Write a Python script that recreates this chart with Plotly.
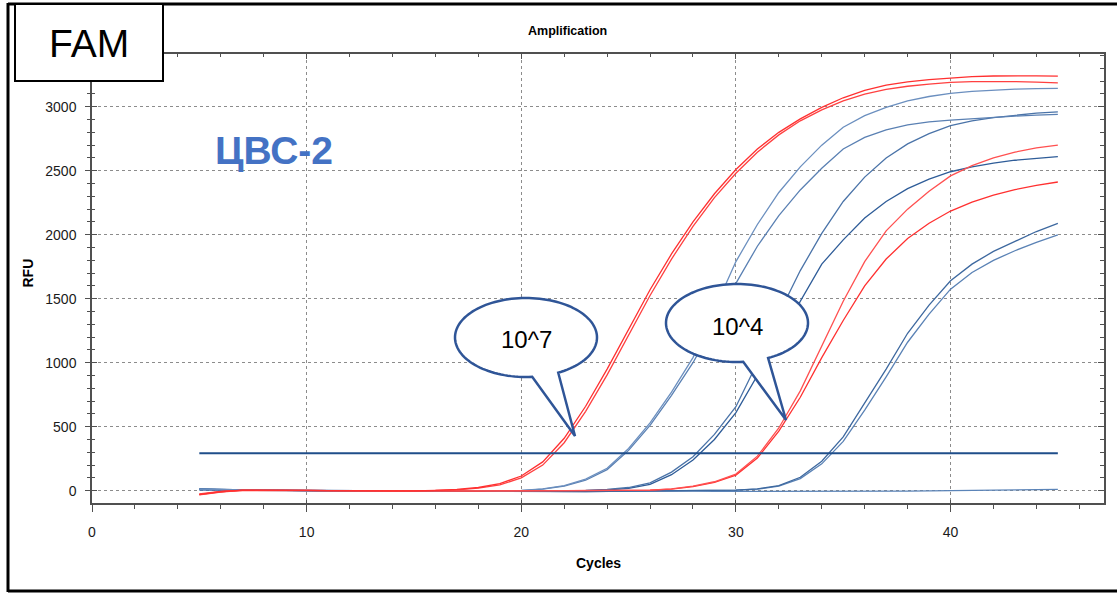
import numpy as np
import plotly.graph_objects as go

# ---------------- data ----------------
cycles = list(range(5, 46))

red_1e7_a = [-30, -8, 4, 5, 4, 3, 1, -1, -2, -3, -2, 2, 10, 25, 55, 115, 225, 410, 660, 950,
             1260, 1570, 1850, 2100, 2320, 2510, 2670, 2800, 2905, 2995, 3070, 3128, 3168, 3195,
             3212, 3226, 3235, 3240, 3242, 3241, 3239]
red_1e7_b = [-25, -6, 3, 4, 3, 2, 0, -2, -3, -3, -2, 1, 7, 20, 45, 100, 200, 375, 620, 905,
             1215, 1525, 1810, 2065, 2290, 2480, 2645, 2780, 2890, 2975, 3045, 3098, 3135, 3160,
             3177, 3190, 3196, 3198, 3196, 3192, 3187]
blue_b1 = [12, 8, 5, 4, 3, 2, 1, 0, -1, -2, -3, -4, -5, -5, -3, 2, 15, 40, 90, 175,
           330, 530, 770, 1040, 1420, 1790, 2080, 2330, 2530, 2700, 2840, 2930, 2995, 3045,
           3080, 3105, 3120, 3130, 3137, 3141, 3143]
blue_b2 = [8, 6, 4, 3, 2, 1, 0, -1, -2, -3, -4, -5, -6, -6, -4, 0, 12, 35, 82, 165,
           315, 510, 745, 1000, 1300, 1620, 1910, 2150, 2350, 2520, 2670, 2760, 2820, 2858,
           2882, 2896, 2908, 2918, 2927, 2934, 2940]
blue_c1 = [10, 7, 5, 3, 2, 1, 0, -1, -2, -3, -4, -5, -5, -6, -6, -5, -4, -2, 2, 10,
           25, 62, 145, 265, 440, 656, 1000, 1380, 1720, 2010, 2260, 2450, 2600, 2710,
           2790, 2852, 2890, 2915, 2935, 2950, 2960]
blue_c2 = [6, 4, 3, 2, 1, 0, -1, -2, -3, -3, -4, -5, -5, -6, -6, -5, -4, -3, 0, 7,
           18, 50, 125, 240, 400, 610, 900, 1200, 1490, 1770, 1960, 2130, 2260, 2360,
           2435, 2492, 2530, 2560, 2582, 2598, 2610]
red_1e4_a = [-32, -10, 3, 4, 3, 2, 1, 0, -1, -2, -2, -3, -3, -3, -2, -2, -1, 0, 0, 1,
             2, 5, 15, 35, 70, 130, 270, 490, 780, 1130, 1480, 1790, 2030, 2200,
             2340, 2460, 2540, 2600, 2645, 2678, 2700]
red_1e4_b = [-28, -7, 2, 3, 2, 1, 0, -1, -2, -2, -3, -3, -3, -3, -2, -2, -1, 0, 0, 1,
             2, 4, 13, 32, 65, 122, 255, 465, 730, 1040, 1330, 1600, 1810, 1970,
             2090, 2185, 2255, 2310, 2352, 2385, 2412]
blue_e1 = [14, 9, 6, 4, 3, 2, 1, 0, -1, -2, -3, -4, -5, -6, -6, -7, -7, -6, -6, -5,
           -4, -3, -2, 0, 2, 5, 15, 40, 105, 230, 420, 680, 950, 1230,
           1450, 1640, 1770, 1870, 1950, 2025, 2089]
blue_e2 = [10, 7, 5, 3, 2, 1, 0, -1, -2, -3, -4, -5, -6, -6, -7, -7, -7, -6, -6, -5,
           -5, -4, -3, -1, 1, 4, 12, 35, 95, 210, 385, 630, 890, 1160,
           1380, 1575, 1705, 1800, 1875, 1940, 1998]
negative = [15, 10, 6, 4, 3, 2, 1, 0, -1, -2, -3, -3, -4, -5, -5, -6, -6, -5, -5, -4,
            -4, -3, -3, -4, -5, -5, -6, -7, -8, -8, -7, -6, -5, -4,
            -2, 0, 3, 5, 7, 9, 10]
threshold_rfu = 292

x_ticks = [0, 10, 20, 30, 40]
y_ticks = [0, 500, 1000, 1500, 2000, 2500, 3000]

# ---------------- figure ----------------
W, H = 1117, 594
L, R, T, B = 92, 13, 54, 91
PW, PH = W - L - R, H - T - B


def pp(x, y):
    return (x - L) / PW, (H - B - y) / PH


fig = go.Figure()

series = [
    (negative, "#5B84B8"),
    (blue_e2, "#5A82B5"),
    (blue_e1, "#3D689F"),
    (blue_c2, "#2E5C98"),
    (blue_c1, "#4A73A8"),
    (blue_b2, "#5A80B3"),
    (blue_b1, "#6B8FBF"),
    (red_1e4_b, "#FF3030"),
    (red_1e4_a, "#FF5050"),
    (red_1e7_b, "#FF4040"),
    (red_1e7_a, "#FF3030"),
]
for vals, col in series:
    fig.add_trace(go.Scatter(x=cycles, y=vals, mode="lines",
                             line=dict(color=col, width=1.3),
                             showlegend=False, hoverinfo="skip"))

fig.add_trace(go.Scatter(x=[cycles[0], cycles[-1]], y=[threshold_rfu, threshold_rfu],
                         mode="lines", line=dict(color="#1F4E8A", width=2),
                         showlegend=False, hoverinfo="skip"))

# dummy traces for helper axes (mirror / crossing ticks)
fig.add_trace(go.Scatter(x=[None], y=[None], xaxis="x2", yaxis="y2",
                         showlegend=False, hoverinfo="skip"))
fig.add_trace(go.Scatter(x=[None], y=[None], xaxis="x3", yaxis="y3",
                         showlegend=False, hoverinfo="skip"))

XR = [0, 47.15]
YR = [-96, 3412]
AX = "#505050"
tickfont = dict(family="Liberation Sans, Arial, sans-serif", size=14, color="#1a1a1a")

fig.update_layout(
    width=W, height=H,
    margin=dict(l=L, r=R, t=T, b=B, pad=0),
    paper_bgcolor="white", plot_bgcolor="white",
    xaxis=dict(range=XR, tickmode="array", tickvals=x_ticks, ticks="outside", ticklen=7,
               tickcolor=AX, tickwidth=1, showline=True, linecolor=AX, linewidth=1.5,
               showgrid=True, gridcolor="#8c8c8c", griddash="dot", gridwidth=1,
               zeroline=False, tickfont=tickfont, ticklabelstandoff=8,
               minor=dict(dtick=2, tick0=0, ticks="outside", ticklen=4, tickcolor=AX,
                          showgrid=False)),
    yaxis=dict(range=YR, tickmode="array", tickvals=y_ticks, ticks="outside", ticklen=5,
               tickcolor=AX, tickwidth=1, showline=True, linecolor=AX, linewidth=1.5,
               showgrid=True, gridcolor="#8c8c8c", griddash="dot", gridwidth=1,
               zeroline=False, tickfont=tickfont, ticklabelstandoff=6,
               minor=dict(dtick=100, tick0=0, ticks="outside", ticklen=3, tickcolor=AX,
                          showgrid=False)),
    xaxis2=dict(range=XR, overlaying="x", side="top", anchor="y2", tickmode="array",
                tickvals=x_ticks, ticks="inside", ticklen=5, tickcolor=AX,
                showline=True, linecolor=AX, linewidth=1.5, showgrid=False,
                zeroline=False, showticklabels=False,
                minor=dict(dtick=2, tick0=0, ticks="inside", ticklen=3, tickcolor=AX)),
    yaxis2=dict(range=YR, overlaying="y", side="right", anchor="x2", tickmode="array",
                tickvals=y_ticks, ticks="inside", ticklen=6, tickcolor=AX,
                showline=True, linecolor=AX, linewidth=1.5, showgrid=False,
                zeroline=False, showticklabels=False,
                minor=dict(dtick=100, tick0=0, ticks="inside", ticklen=4, tickcolor=AX)),
    xaxis3=dict(range=XR, overlaying="x", side="bottom", anchor="y3", tickmode="array",
                tickvals=x_ticks, ticks="inside", ticklen=3, tickcolor=AX,
                showline=False, showgrid=False, zeroline=False, showticklabels=False),
    yaxis3=dict(range=YR, overlaying="y", side="left", anchor="x3", tickmode="array",
                tickvals=y_ticks, ticks="inside", ticklen=5, tickcolor=AX,
                showline=False, showgrid=False, zeroline=False, showticklabels=False,
                minor=dict(dtick=100, tick0=0, ticks="inside", ticklen=3, tickcolor=AX)),
)

shapes = []


def line_px(x0, y0, x1, y1, width, color="black"):
    a, b = pp(x0, y0)
    c, d = pp(x1, y1)
    shapes.append(dict(type="line", xref="paper", yref="paper", x0=a, y0=b, x1=c, y1=d,
                       line=dict(color=color, width=width), layer="above"))


# outer frame of the slide
line_px(8, 4, 1117, 4, 3)
line_px(8, 3, 8, 592, 3)
line_px(8, 591, 1117, 591, 3)

# FAM box
fx0, fy0 = pp(15, 4)
fx1, fy1 = pp(163, 81)
shapes.append(dict(type="rect", xref="paper", yref="paper", x0=fx0, y0=fy1, x1=fx1, y1=fy0,
                   fillcolor="white", line=dict(color="black", width=2), layer="above"))


def bubble(cx, cy, rx, ry, a_left, a_right, tip):
    pts = []
    angs = np.linspace(np.radians(a_right), np.radians(a_left - 360), 120)
    for a in angs:
        pts.append((cx + rx * np.cos(a), cy + ry * np.sin(a)))
    pts.append(tip)
    path = ""
    for i, (x, y) in enumerate(pts):
        u, v = pp(x, y)
        path += ("M" if i == 0 else "L") + f"{u:.5f},{v:.5f} "
    path += "Z"
    shapes.append(dict(type="path", xref="paper", yref="paper", path=path,
                       fillcolor="white", line=dict(color="#2F5597", width=2.5),
                       layer="above"))


bubble(526, 337.5, 71, 39.5, 85, 63, (575, 436))
bubble(737, 323, 71, 39, 85, 64, (786, 420))

fig.update_layout(shapes=shapes)

ann = []


def text_px(x, y, s, size, color="black", bold=False, family="Liberation Sans, Arial, sans-serif",
            angle=0):
    u, v = pp(x, y)
    ann.append(dict(x=u, y=v, xref="paper", yref="paper", text=(f"<b>{s}</b>" if bold else s),
                    showarrow=False, xanchor="center", yanchor="middle", textangle=angle,
                    font=dict(family=family, size=size, color=color)))


text_px(567, 31, "Amplification", 12.5, bold=True)
text_px(598, 563, "Cycles", 14, bold=True)
text_px(27.5, 273, "RFU", 14, bold=True, angle=-90)
text_px(89, 43, "FAM", 39)
text_px(274, 150, "ЦВС-2", 39, color="#4472C4", bold=True)
text_px(526, 339, "10^7", 24)
text_px(737.5, 326, "10^4", 24)

fig.update_layout(annotations=ann)

fig.write_html("out.html")
